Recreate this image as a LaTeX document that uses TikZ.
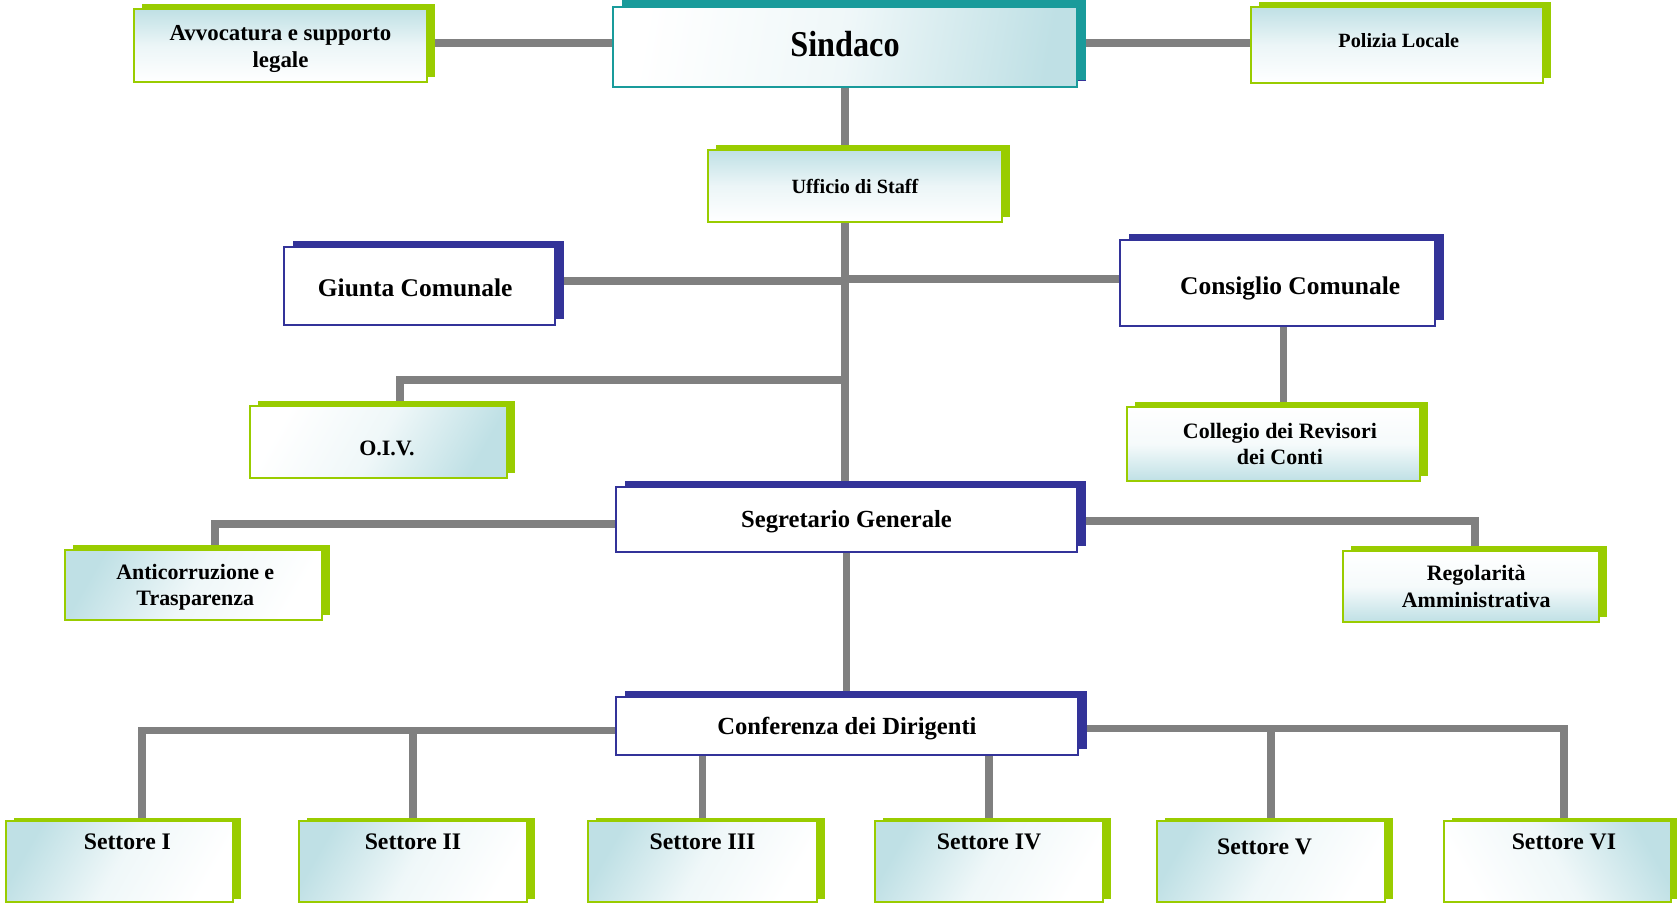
\documentclass[tikz,border=0pt]{standalone}
\usepackage{fontspec}
\setmainfont{Liberation Serif}
\usetikzlibrary{shadows,backgrounds}
\definecolor{gr}{HTML}{99CC00}
\definecolor{tl}{HTML}{199B9B}
\definecolor{bl}{HTML}{333399}
\definecolor{cn}{HTML}{808080}
\definecolor{lb}{HTML}{BFE0E5}
\tikzset{
  wh/.style 2 args={minimum width=#1*0.02cm, minimum height=#2*0.02cm},
  fs/.style={font=\bfseries\fontsize{#1}{15}\selectfont},
  th/.style={text height=#1, text depth=0pt},
  gbox/.style={draw=gr, line width=1.1pt, inner sep=1pt, align=center,
    general shadow={fill=gr, shadow xshift=0.16cm, shadow yshift=0.11cm}},
  bbox/.style={draw=bl, line width=1pt, fill=white, inner sep=1pt, align=center,
    general shadow={fill=bl, shadow xshift=0.17cm, shadow yshift=0.12cm}},
  sbox/.style={draw=gr, line width=1.1pt, inner sep=0pt, align=center,
    text height=10pt, text depth=24pt,
    general shadow={fill=gr, shadow xshift=0.16cm, shadow yshift=0.07cm}},
  bleft/.style={left color=lb, right color=white, middle color=white!75!lb, shading angle=#1},
  bright/.style={left color=white, right color=lb, middle color=white!75!lb, shading angle=#1},
  btop/.style={top color=lb, bottom color=white, middle color=white!70!lb},
  bbot/.style={top color=white, bottom color=lb, middle color=white!85!lb},
  conn/.style={draw=cn, line width=0.15cm},
}
\begin{document}
\begin{tikzpicture}[x=0.02cm,y=-0.02cm]
\useasboundingbox (0,0) rectangle (1677,903);
% top row
\node[bbox, draw=tl, line width=1.1pt, general shadow={fill=tl, shadow xshift=0.18cm, shadow yshift=0.14cm},
      bright=80, wh={464}{80}, fs=18, th=10.7pt] (sind) at (845,47) {\scalebox{1.02}[1.15]{Sindaco}};
\node[gbox, btop, wh={293}{73}, fs=13] (avv) at (280.5,45.5) {\rule{0pt}{12.4pt}Avvocatura e supporto\\legale};
\node[gbox, btop, wh={292}{76}, fs=11.5, th=3.1pt] (pol) at (1397,45) {\hspace*{2pt}Polizia Locale};
\node[gbox, btop, wh={294}{72}, fs=11.5] (uff) at (855,186) {Ufficio di Staff};
% councils
\node[bbox, wh={271}{78}, fs=14.5, th=12.4pt] (giu) at (419.5,286) {Giunta Comunale\hspace*{4.9pt}};
\node[bbox, wh={315}{86}, fs=14.5, th=12.8pt] (cons) at (1277.5,283) {\hspace*{14.5pt}Consiglio Comunale};
\node[gbox, bright=60, wh={257}{72}, fs=12.5, th=15.6pt] (oiv) at (378.5,442) {\hspace*{9.6pt}O.I.V.};
\node[gbox, bbot, wh={293}{74}, fs=12.5] (coll) at (1273.5,444) {\hspace*{7.3pt}Collegio dei Revisori\\\hspace*{7.3pt}dei Conti};
% segretario
\node[bbox, wh={461}{65}, fs=14, th=9pt] (seg) at (846.5,519.5) {Segretario Generale};
\node[gbox, bleft=60, wh={257}{70}, fs=12.5] (anti) at (193.5,585) {\rule{0pt}{10.9pt}\hspace*{2pt}Anticorruzione e\\\hspace*{2pt}Trasparenza};
\node[gbox, bbot, wh={256}{71}, fs=12.5] (reg) at (1471,586.5) {\hspace*{6pt}Regolarità\\\hspace*{6pt}Amministrativa};
\node[bbox, wh={462}{58}, fs=14, th=10.2pt] (conf) at (847,726) {Conferenza dei Dirigenti};
% settori
\node[sbox, bleft=60, wh={227}{81}, fs=13.5] (s1) at (119.5,861.5) {\hspace*{9pt}Settore I};
\node[sbox, bleft=60, wh={228}{81}, fs=13.5] (s2) at (413,861.5) {Settore II};
\node[sbox, bleft=60, wh={229}{81}, fs=13.5] (s3) at (702.5,861.5) {Settore III};
\node[sbox, bleft=60, wh={228}{81}, fs=13.5] (s4) at (989,861.5) {Settore IV};
\node[sbox, bleft=60, wh={228}{81}, fs=13.5] (s5) at (1271,861.5) {\raisebox{-3pt}{Settore V}\hspace*{7.3pt}};
\node[sbox, bright=120, wh={227}{81}, fs=13.5] (s6) at (1557.5,861.5) {\hspace*{7.3pt}Settore VI};
% connectors
\coordinate (oivj) at (845,380);
\coordinate (cl) at ([yshift=-0.09cm]conf.west);
\coordinate (cr) at ([yshift=-0.05cm]conf.east);
\begin{pgfonlayer}{background}
\draw[conn] ([yshift=0.05cm]avv.east) -- ([yshift=0.05cm]avv.east -| sind.west);
\draw[conn] ([yshift=0.04cm]pol.west) -- ([yshift=0.04cm]pol.west -| sind.east);
\draw[conn] (sind.south) -- (sind.south |- seg.north);
\draw[conn] ([yshift=0.1cm]giu.east) -- ([yshift=0.1cm]giu.east -| sind.south);
\draw[conn] ([yshift=0.08cm]cons.west) -- ([yshift=0.08cm]cons.west -| sind.south);
\draw[conn] (oivj) -| ([xshift=0.43cm]oiv.north);
\draw[conn] ([xshift=0.2cm]coll.north) -- ([xshift=0.2cm]coll.north |- cons.south);
\draw[conn] ([yshift=-0.09cm]seg.west) -| ([xshift=0.43cm]anti.north);
\draw[conn] ([yshift=-0.03cm]seg.east) -| ([xshift=0.08cm]reg.north);
\draw[conn] (seg.south) -- (seg.south |- conf.north);
\draw[conn] (cl) -| ([xshift=0.45cm]s1.north);
\draw[conn] (s2.north) -- (s2.north |- cl);
\draw[conn] (s3.north) -- (s3.north |- conf.south);
\draw[conn] (s4.north) -- (s4.north |- conf.south);
\draw[conn] (cr) -| ([xshift=0.13cm]s6.north);
\draw[conn] (s5.north) -- (s5.north |- cr);
\end{pgfonlayer}
\end{tikzpicture}
\end{document}
